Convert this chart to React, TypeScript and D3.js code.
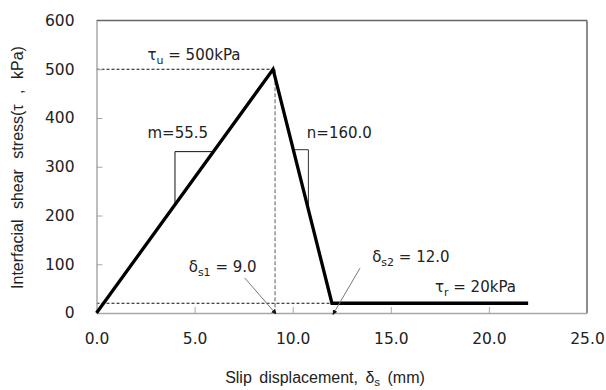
import { useEffect, useRef } from 'react';
import * as d3 from 'd3';

const WIDTH = 606;
const HEIGHT = 390;
const MARGIN = { top: 20.5, right: 19, bottom: 77, left: 96.5 };

// bilinear bond-slip model
const slipValues = [0, 9.0, 12.0, 22.0];
const stressValues = [0, 500, 20, 20];
const xTicks = [0, 5, 10, 15, 20, 25];
const yTicks = [0, 100, 200, 300, 400, 500, 600];

// slope triangles: [x of vertical leg, y of horizontal leg]
const mTriangle = [4.0, 331];
const nTriangle = [10.8, 335];
const mSlope = 55.5;
const nSlope = 160.0;

const NUM_FONT = '"DejaVu Sans", Verdana, sans-serif';
const TITLE_FONT = '"Liberation Sans", Arial, sans-serif';

export default function App() {
    const axesRef = useRef(null);
    const boundsWidth = WIDTH - MARGIN.left - MARGIN.right;
    const boundsHeight = HEIGHT - MARGIN.top - MARGIN.bottom;

    const xScale = d3.scaleLinear().domain([0, 25]).range([0, boundsWidth]);
    const yScale = d3.scaleLinear().domain([0, 600]).range([boundsHeight, 0]);

    useEffect(() => {
        const g = d3.select(axesRef.current);
        g.selectAll('*').remove();

        const xAxis = d3.axisBottom(xScale).tickValues(xTicks).tickFormat(d3.format('.1f')).tickSizeInner(-6).tickSizeOuter(0).tickPadding(20);
        const gx = g.append('g').attr('transform', `translate(0,${boundsHeight})`).call(xAxis);

        const yAxis = d3.axisLeft(yScale).tickValues(yTicks).tickFormat(d3.format('d')).tickSizeInner(-6).tickSizeOuter(0).tickPadding(22);
        const gy = g.append('g').call(yAxis);

        [gx, gy].forEach((a) => {
            a.select('.domain').attr('stroke', '#a8a8a8').attr('stroke-width', 1.5);
            a.selectAll('.tick line').attr('stroke', '#a8a8a8');
            a.selectAll('.tick text').attr('fill', '#222').style('font-family', NUM_FONT).style('font-size', '15.5px');
        });
        // the end tick lines sit on the other axis / frame
        gx.selectAll('.tick').filter((d) => d === 0 || d === 25).select('line').remove();
        gy.selectAll('.tick').filter((d) => d === 0 || d === 600).select('line').remove();
    }, [xScale, yScale, boundsHeight]);

    const curve = d3
        .line<number>()
        .x((d) => xScale(d))
        .y((_, i) => yScale(stressValues[i]));

    const slopeAt = (x: number) => (x <= slipValues[1] ? mSlope * x : stressValues[1] - nSlope * (x - slipValues[1]));
    const mEndX = mTriangle[1] / mSlope;
    const nStartX = slipValues[1] + (stressValues[1] - nTriangle[1]) / nSlope;
    const guideX = slipValues[1] + 0.1;

    return (
        <svg width={WIDTH} height={HEIGHT} style={{ position: 'absolute', left: 0, top: 0, background: '#fff' }}>
            <defs>
                <marker id="head" viewBox="0 0 10 10" refX="9" refY="5" markerWidth="5" markerHeight="5" orient="auto">
                    <path d="M0,0 L10,5 L0,10 z" fill="#111" />
                </marker>
            </defs>
            <g transform={`translate(${MARGIN.left},${MARGIN.top})`}>
                {/* frame top and right */}
                <line x1={0} x2={boundsWidth} y1={0} y2={0} stroke="#666" strokeWidth={1.5} />
                <line x1={boundsWidth} x2={boundsWidth} y1={0} y2={boundsHeight} stroke="#666" strokeWidth={1.5} />

                {/* guide lines */}
                <line x1={0} x2={xScale(slipValues[1])} y1={yScale(stressValues[1])} y2={yScale(stressValues[1])} stroke="#111" strokeDasharray="3,2" />
                <line x1={xScale(guideX)} x2={xScale(guideX)} y1={yScale(stressValues[1])} y2={boundsHeight} stroke="#777" strokeDasharray="4,2" strokeWidth={1.2} />
                <line x1={0} x2={xScale(slipValues[2])} y1={yScale(stressValues[2])} y2={yScale(stressValues[2])} stroke="#111" strokeDasharray="3,2" />

                {/* slope triangles */}
                <polyline
                    points={[
                        [xScale(mEndX), yScale(mTriangle[1])],
                        [xScale(mTriangle[0]), yScale(mTriangle[1])],
                        [xScale(mTriangle[0]), yScale(slopeAt(mTriangle[0]))],
                    ].join(' ')}
                    fill="none"
                    stroke="#111"
                    strokeWidth={1}
                />
                <polyline
                    points={[
                        [xScale(nStartX), yScale(nTriangle[1])],
                        [xScale(nTriangle[0]), yScale(nTriangle[1])],
                        [xScale(nTriangle[0]), yScale(slopeAt(nTriangle[0]))],
                    ].join(' ')}
                    fill="none"
                    stroke="#333"
                    strokeWidth={1}
                />

                <g ref={axesRef} />

                {/* model curve */}
                <path d={curve(slipValues) ?? ''} fill="none" stroke="#000" strokeWidth={3.3} strokeLinejoin="miter" />

                {/* arrows */}
                <line x1={xScale(7.55)} y1={yScale(72)} x2={xScale(9.15)} y2={yScale(-2)} stroke="#777" strokeWidth={1} markerEnd="url(#head)" />
                <line x1={xScale(13.43)} y1={yScale(92)} x2={xScale(12.05)} y2={yScale(-3)} stroke="#777" strokeWidth={1} markerEnd="url(#head)" />

                {/* annotations */}
                <g fill="#222" fontFamily={NUM_FONT} fontSize={15}>
                    <text x={xScale(2.6)} y={yScale(518)}>
                        τ<tspan fontSize={11} dy={4}>u</tspan>
                        <tspan dy={-4}> = 500kPa</tspan>
                    </text>
                    <text x={xScale(2.6)} y={yScale(360)}>m=55.5</text>
                    <text x={xScale(10.72)} y={yScale(360)}>n=160.0</text>
                    <text x={xScale(4.7)} y={yScale(84)}>
                        δ<tspan fontSize={11} dy={4}>s1</tspan>
                        <tspan dy={-4}> = 9.0</tspan>
                    </text>
                    <text x={xScale(14.05)} y={yScale(105)}>
                        δ<tspan fontSize={11} dy={4}>s2</tspan>
                        <tspan dy={-4}> = 12.0</tspan>
                    </text>
                    <text x={xScale(17.25)} y={yScale(43)}>
                        τ<tspan fontSize={11} dy={4}>r</tspan>
                        <tspan dy={-4}> = 20kPa</tspan>
                    </text>
                </g>
            </g>

            {/* axis titles */}
            <text x={325} y={383} textAnchor="middle" fontFamily={TITLE_FONT} fontSize={16} wordSpacing={3} fill="#222">
                Slip displacement,  δ<tspan fontSize={11.5} dy={2.5}>s</tspan>
                <tspan dy={-2.5}> (mm)</tspan>
            </text>
            <text transform="translate(22.5,167.5) rotate(-90)" textAnchor="middle" fontFamily={TITLE_FONT} fontSize={16} wordSpacing={6} fill="#222">
                Interfacial shear stress(τ , kPa)
            </text>
        </svg>
    );
}
